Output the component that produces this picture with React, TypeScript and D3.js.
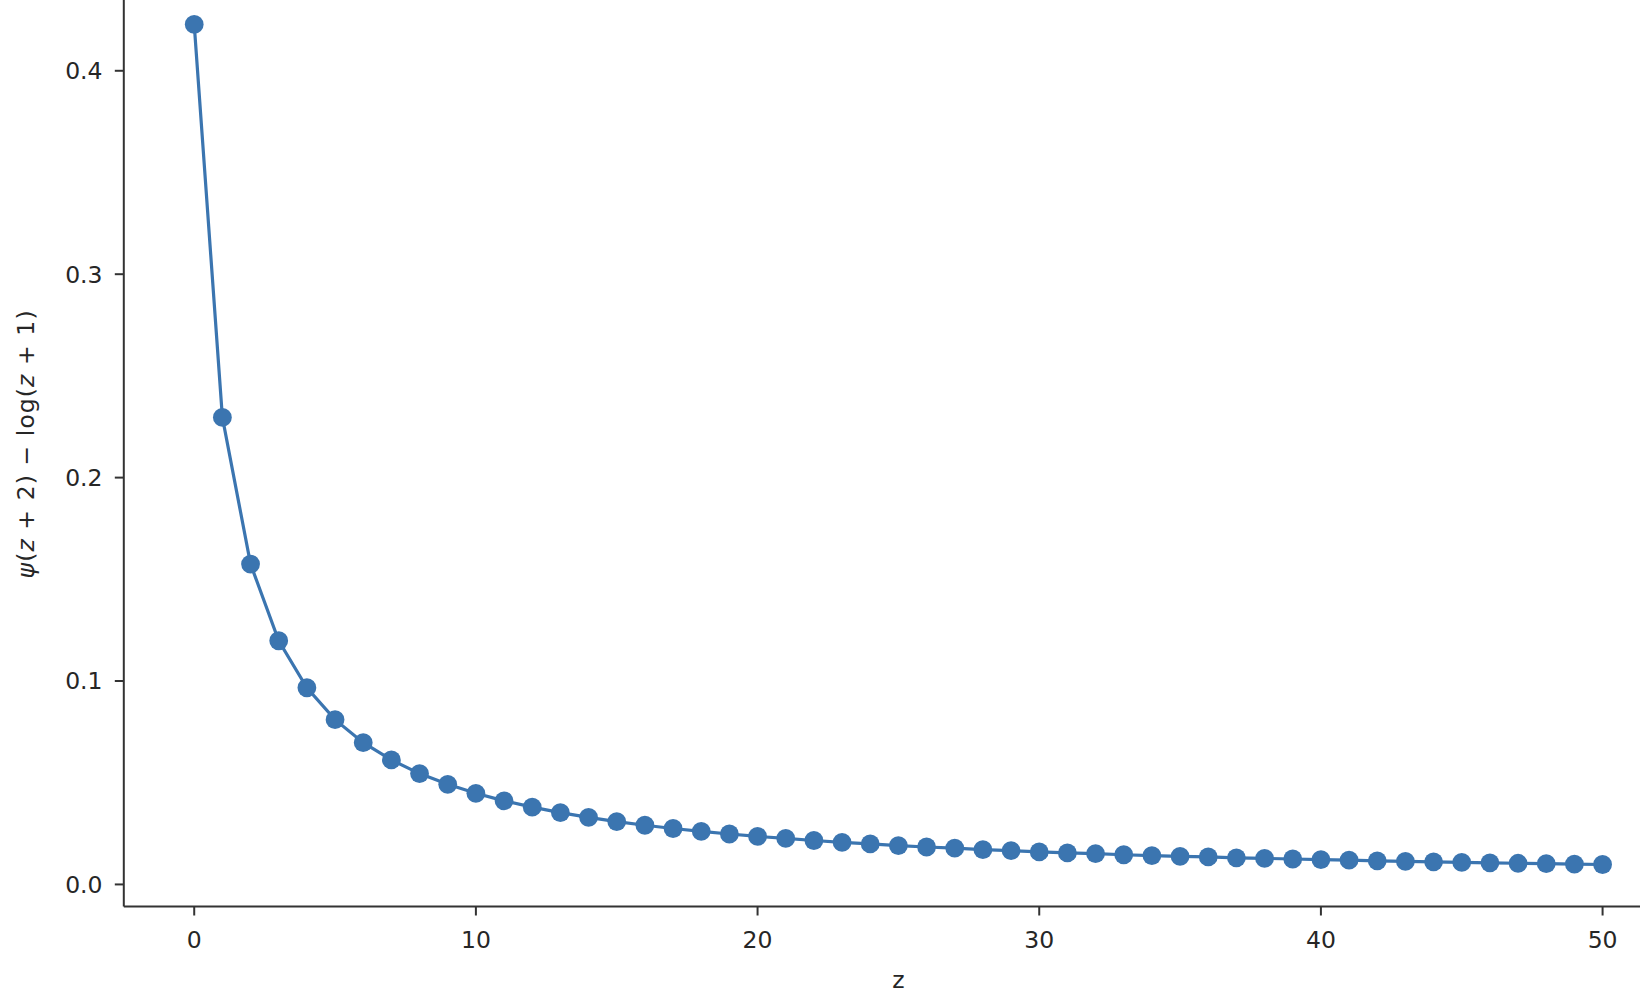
import React from "react";
import * as d3 from "d3";

const zValues: number[] = [
  0, 1, 2, 3, 4, 5, 6, 7, 8, 9, 10, 11, 12, 13, 14, 15, 16, 17, 18, 19, 20,
  21, 22, 23, 24, 25, 26, 27, 28, 29, 30, 31, 32, 33, 34, 35, 36, 37, 38, 39,
  40, 41, 42, 43, 44, 45, 46, 47, 48, 49, 50,
];
const yValues: number[] = [
  0.4228, 0.2296, 0.1575, 0.1198, 0.0967, 0.081, 0.0697, 0.0612, 0.0545,
  0.0492, 0.0448, 0.0411, 0.038, 0.0353, 0.033, 0.0309, 0.0291, 0.0275,
  0.0261, 0.0248, 0.0236, 0.0226, 0.0216, 0.0207, 0.0199, 0.0191, 0.0184,
  0.0178, 0.0171, 0.0166, 0.016, 0.0155, 0.0151, 0.0146, 0.0142, 0.0138,
  0.0135, 0.0131, 0.0128, 0.0125, 0.0122, 0.0119, 0.0116, 0.0113, 0.0111,
  0.0108, 0.0106, 0.0104, 0.0102, 0.01, 0.0098,
];
const xTicks: number[] = [0, 10, 20, 30, 40, 50];
const yTicks: number[] = [0.0, 0.1, 0.2, 0.3, 0.4];

const W = 1640;
const H = 1006;
const COLOR = "#3b75b0";
const TEXT = "#262626";
const FONT = "'DejaVu Sans', sans-serif";
const FS = 23.5;

export default function App() {
  const xMin = d3.min(zValues)!;
  const xMax = d3.max(zValues)!;
  const yMin = d3.min(yValues)!;
  const yMax = d3.max(yValues)!;
  const xPad = (xMax - xMin) * 0.05;
  const yPad = (yMax - yMin) * 0.05;
  const x = d3
    .scaleLinear()
    .domain([xMin - xPad, xMax + xPad])
    .range([123.8, 1673]);
  const y = d3
    .scaleLinear()
    .domain([yMin - yPad, yMax + yPad])
    .range([906.5, -17.6]);

  const pts = zValues.map((z, i) => [z, yValues[i]] as [number, number]);
  const line = d3
    .line<[number, number]>()
    .x((d) => x(d[0]))
    .y((d) => y(d[1]));

  const left = x.range()[0];
  const bottom = y.range()[0];

  return (
    <svg
      width={W}
      height={H}
      style={{ position: "absolute", left: 0, top: 0, background: "#fff" }}
      fontFamily={FONT}
    >
      <rect x={0} y={0} width={W} height={H} fill="#fff" />
      <path d={line(pts) || ""} fill="none" stroke={COLOR} strokeWidth={3.2} />
      {pts.map((d, i) => (
        <circle key={i} cx={x(d[0])} cy={y(d[1])} r={9.4} fill={COLOR} />
      ))}
      {/* spines */}
      <line x1={left} x2={left} y1={0} y2={bottom} stroke="#333" strokeWidth={2} />
      <line x1={left} x2={W} y1={bottom} y2={bottom} stroke="#333" strokeWidth={2} />
      {/* x ticks */}
      {xTicks.map((t) => (
        <g key={"x" + t}>
          <line x1={x(t)} x2={x(t)} y1={bottom} y2={bottom + 9} stroke="#333" strokeWidth={2} />
          <text
            x={x(t)}
            y={bottom + 41.5}
            textAnchor="middle"
            fontSize={FS}
            fill={TEXT}
          >
            {String(t)}
          </text>
        </g>
      ))}
      {/* y ticks */}
      {yTicks.map((t) => (
        <g key={"y" + t}>
          <line x1={left - 9} x2={left} y1={y(t)} y2={y(t)} stroke="#333" strokeWidth={2} />
          <text
            x={102.5}
            y={y(t)}
            dy="0.36em"
            textAnchor="end"
            fontSize={FS}
            fill={TEXT}
          >
            {t.toFixed(1)}
          </text>
        </g>
      ))}
      {/* x label */}
      <text
        x={(x.range()[0] + x.range()[1]) / 2}
        y={988}
        textAnchor="middle"
        fontSize={FS}
        fill={TEXT}
      >
        z
      </text>
      {/* y label */}
      <text
        transform={`translate(34, ${(y.range()[0] + y.range()[1]) / 2}) rotate(-90)`}
        textAnchor="middle"
        fontSize={FS}
        fill={TEXT}
        textLength={268}
        lengthAdjust="spacing"
      >
        <tspan fontStyle="italic">ψ</tspan>
        <tspan>(</tspan>
        <tspan fontStyle="italic">z</tspan>
        <tspan> + 2) − log(</tspan>
        <tspan fontStyle="italic">z</tspan>
        <tspan> + 1)</tspan>
      </text>
    </svg>
  );
}
